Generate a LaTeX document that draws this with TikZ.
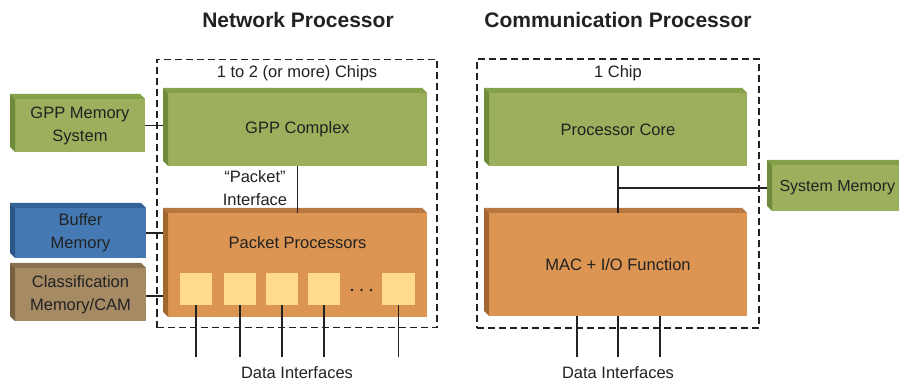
\documentclass[tikz,border=0pt]{standalone}
\usepackage{fontspec}
\setmainfont{Liberation Sans}
\usetikzlibrary{backgrounds}

\definecolor{grnface}{HTML}{9BAF5D}
\definecolor{grntop}{HTML}{84A048}
\definecolor{grnside}{HTML}{6E8A3A}
\definecolor{orgface}{HTML}{DC9552}
\definecolor{orgtop}{HTML}{BA7840}
\definecolor{orgside}{HTML}{A2662F}
\definecolor{bluface}{HTML}{4479B3}
\definecolor{blutop}{HTML}{336499}
\definecolor{bluside}{HTML}{2A568A}
\definecolor{brnface}{HTML}{A68A63}
\definecolor{brntop}{HTML}{8A7250}
\definecolor{brnside}{HTML}{75613F}
\definecolor{coreface}{HTML}{FFDB8B}
\definecolor{ink}{HTML}{222222}

% bevelled top and left edges of a block (node name, top colour, side colour)
\newcommand\bevelblock[3]{%
  \fill[#2] (#1.north west) -- ([shift={(-5,-5)}]#1.north west)
    -- ([shift={(-5,-5)}]#1.north east) -- (#1.north east) -- cycle;
  \fill[#3] (#1.north west) -- ([shift={(-5,-5)}]#1.north west)
    -- ([shift={(-5,-5)}]#1.south west) -- (#1.south west) -- cycle;
}

\begin{document}
\begin{tikzpicture}[x=1pt,y=-1pt,
  font=\fontsize{16.5}{23}\selectfont,
  face/.style={inner sep=0pt, outer sep=0pt, align=center, text=ink},
  chipbox/.style={draw=ink, dash pattern=on 7pt off 4pt, line width=1.2pt,
    inner sep=0pt, outer sep=0pt},
  wire/.style={draw=ink, line width=1.2pt},
  heading/.style={font=\fontsize{21}{24}\selectfont\bfseries, text=ink},
  label/.style={text=ink, align=center},
  corebox/.style={fill=coreface, inner sep=0pt, outer sep=0pt,
    minimum width=32pt, minimum height=32pt}]

\useasboundingbox (0,0) rectangle (899,387);
\clip (0,0) rectangle (899,387);

% headings
\node[heading] (nph) at (298,20) {Network Processor};
\node[heading] (cph) at (618,20) {Communication Processor};

% chip boundaries
\node[chipbox, minimum width=280pt, minimum height=268pt] (npchip) at (297,193.5) {};
\node[chipbox, minimum width=282pt, minimum height=269pt] (cpchip) at (618,193.5) {};
\node[label] (npcount) at (297,73) {1 to 2 (or more) Chips};
\node[label] (cpcount) at (618,73) {1 Chip};

% network processor blocks
\node[face, fill=grnface, minimum width=259pt, minimum height=73pt] (gpp) at (297.5,129.5) {GPP Complex};
\bevelblock{gpp}{grntop}{grnside}
\node[face, fill=orgface, minimum width=259pt, minimum height=104pt] (pp) at (297.5,265) {};
\bevelblock{pp}{orgtop}{orgside}
\node[label] (pptext) at (297.5,243) {Packet Processors};

% attached memories
\node[face, fill=grnface, minimum width=130pt, minimum height=53pt] (gppmem) at (80,125.5) {GPP Memory\\System};
\bevelblock{gppmem}{grntop}{grnside}
\node[face, fill=bluface, minimum width=131pt, minimum height=50pt] (bufmem) at (80.5,233) {Buffer\\Memory};
\bevelblock{bufmem}{blutop}{bluside}
\node[face, fill=brnface, minimum width=131pt, minimum height=53pt] (cam) at (80.5,294.5) {Classification\\Memory/CAM};
\bevelblock{cam}{brntop}{brnside}

% processing elements
\node[corebox] (s1) at (196,289) {};
\node[corebox] (s2) at (240,289) {};
\node[corebox] (s3) at (282,289) {};
\node[corebox] (s4) at (324,289) {};
\node[corebox, minimum width=33pt] (s5) at (398.5,289) {};
\foreach \dx in {352,361.5,371} \fill[ink] (\dx,290) circle (1.4pt);

% communication processor blocks
\node[face, fill=grnface, minimum width=258pt, minimum height=73pt] (core) at (618,129.5) {Processor Core};
\bevelblock{core}{grntop}{grnside}
\node[face, fill=orgface, minimum width=258pt, minimum height=103pt] (mac) at (618,264.5) {MAC + I/O Function};
\bevelblock{mac}{orgtop}{orgside}
\node[face, fill=grnface, minimum width=140pt, minimum height=46pt] (sysmem) at (842,188) {};
\bevelblock{sysmem}{grntop}{grnside}
\node[label, anchor=west, font=\fontsize{16}{20}\selectfont] (sysmemtext) at (776,188) {System Memory};

% white page and the connectors that run behind the blocks
\begin{scope}[on background layer]
  \fill[white] (0,0) rectangle (899,387);
  \draw[wire] (gppmem.east) -- (gppmem.east -| gpp.west);
  \draw[wire] (bufmem.east) -- (bufmem.east -| pp.west);
  \draw[wire] ([yshift=-1.5pt]cam.east) -- ([yshift=-1.5pt]cam.east -| pp.west);
  \coordinate (tap) at (core.south |- sysmem.west);
  \draw[wire] (tap) -- (sysmem.west);
\end{scope}

% packet interface
\draw[wire] (gpp.south) -- (pp.north);
\node[label] (pif) at (255,188) {\textquotedblleft Packet\textquotedblright\\Interface};

% core to MAC
\draw[wire] (core.south) -- (mac.north);

% data interfaces
\foreach \s in {s1,s2,s3,s4,s5} {
  \coordinate (\s-end) at (\s.south |- 0,357);
  \draw[wire] (\s.south) -- (\s-end);
}
\foreach \n/\x in {m1/577,m2/618,m3/660} {
  \coordinate (\n-top) at (\x,0 |- mac.south);
  \coordinate (\n-end) at (\x,357);
  \draw[wire] (\n-top) -- (\n-end);
}
\node[label] (npdata) at (297,373) {Data Interfaces};
\node[label] (cpdata) at (618,373) {Data Interfaces};

\end{tikzpicture}
\end{document}
